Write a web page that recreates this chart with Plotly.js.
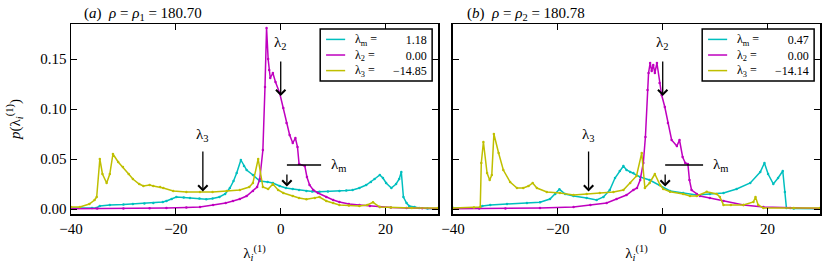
<!DOCTYPE html>
<html>
<head>
<meta charset="utf-8">
<script src="https://cdn.plot.ly/plotly-3.0.1.min.js"></script>
<style>html,body{margin:0;padding:0;background:#fff;}#chart{width:822px;height:264px;}</style>
</head>
<body>
<div id="chart"></div>
<script>
// ---------- Data ----------
// Panel (a): rho = rho1 = 180.70
const aLmX = [-40,-36,-35.2,-34.5,-32.6,-30,-28.2,-26,-24.3,-22.5,-21.8,-20.8,-19.9,-18.5,-17.3,-15.5,-14.2,-13,-11.7,-10.6,-9.7,-9,-8.4,-7.6,-7,-6.5,-5.3,-4,-2.5,-1.5,-0.2,1,2.3,3.5,4.9,6,7.4,9,11.2,12.5,13.7,15,16.3,17.2,17.9,18.9,19.5,20.1,21.1,22,22.6,23,23.4,24,24.5,25.5,26.4,28,30];
const aLmY = [0.001,0.001,0.001,0.003,0.004,0.0045,0.005,0.0055,0.006,0.007,0.008,0.010,0.012,0.0115,0.011,0.0105,0.0097,0.0105,0.012,0.015,0.021,0.028,0.036,0.049,0.043,0.039,0.034,0.028,0.027,0.026,0.023,0.021,0.020,0.019,0.018,0.0175,0.0173,0.0175,0.018,0.0185,0.019,0.021,0.024,0.027,0.030,0.034,0.031,0.026,0.021,0.025,0.030,0.037,0.012,0.006,0.003,0.002,0.001,0.0005,0.0003];

const aL2X = [-40,-35,-30,-25,-21.8,-18,-15.4,-12.9,-10.5,-9.1,-7.8,-6.5,-5.3,-4.5,-4.0,-3.4,-3.0,-2.7,-2.4,-2.2,-2.0,-1.5,-1.0,-0.2,0.5,1.1,1.7,2.3,2.8,3.2,3.5,4.6,5.0,5.5,6.2,7.1,8.7,10,11.2,13,15,17,18.9,21,24,27,30];
const aL2Y = [0.0003,0.0004,0.0006,0.0008,0.001,0.0015,0.002,0.004,0.006,0.008,0.010,0.013,0.018,0.022,0.030,0.059,0.122,0.181,0.150,0.139,0.131,0.136,0.127,0.116,0.101,0.086,0.074,0.066,0.071,0.062,0.045,0.043,0.032,0.024,0.019,0.016,0.012,0.009,0.007,0.005,0.004,0.003,0.002,0.0015,0.001,0.0007,0.0005];

const aL3X = [-40,-38.3,-36.5,-35.5,-35.1,-34.5,-34,-33.2,-32.6,-32,-31,-30.1,-29,-28.2,-27,-26.2,-25,-24.3,-23,-22.4,-20.5,-18,-15.4,-13,-10.3,-7.8,-6,-5.3,-4.3,-3.4,-2.4,-1.5,-0.5,0.5,2.3,3.5,4.9,6.5,7.4,8.7,10,11.2,13,15,16.5,17.6,18.9,21,25,30];
const aL3Y = [0.002,0.002,0.005,0.009,0.012,0.050,0.035,0.026,0.035,0.055,0.047,0.042,0.035,0.030,0.025,0.023,0.024,0.023,0.022,0.021,0.018,0.017,0.017,0.017,0.018,0.019,0.022,0.026,0.050,0.022,0.020,0.025,0.019,0.016,0.013,0.011,0.0097,0.011,0.012,0.008,0.006,0.004,0.0035,0.003,0.004,0.0067,0.002,0.0015,0.001,0.001];

// Panel (b): rho = rho2 = 180.78
const bLmX = [-40,-35,-34.4,-32.9,-29.7,-25.9,-23.4,-21.5,-20.5,-19.7,-18.6,-17,-14.5,-12.6,-11.3,-10.1,-9.1,-8.2,-7.5,-6.9,-6.2,-5.6,-4.3,-2.5,-0.6,1.4,3.9,6.5,9,11.6,14.1,16.7,18.6,19.4,20.1,21.1,22,22.9,23.3,23.6,25,30];
const bLmY = [0.001,0.001,0.003,0.004,0.005,0.006,0.0067,0.010,0.015,0.0197,0.015,0.013,0.011,0.009,0.012,0.019,0.031,0.038,0.043,0.039,0.037,0.036,0.032,0.029,0.024,0.018,0.016,0.014,0.015,0.016,0.020,0.026,0.037,0.046,0.035,0.025,0.031,0.038,0.017,0.001,0.0005,0.0003];

const bL2X = [-40,-35,-30,-23.4,-17,-13.8,-10.7,-8.8,-6.9,-5.6,-4.9,-4.3,-3.7,-3.3,-2.9,-2.7,-2.4,-2.1,-1.8,-1.5,-1.1,-0.6,-0.2,0.4,1.0,1.7,2.7,3.2,3.8,4.3,4.8,5.1,5.5,6.5,7.1,9,11.6,15.4,19.2,24.3,30];
const bL2Y = [0.0003,0.0004,0.0006,0.001,0.002,0.004,0.006,0.010,0.014,0.019,0.021,0.029,0.046,0.072,0.119,0.136,0.146,0.138,0.144,0.136,0.146,0.126,0.114,0.102,0.086,0.069,0.063,0.069,0.052,0.046,0.045,0.029,0.019,0.015,0.013,0.011,0.008,0.004,0.002,0.001,0.0005];

const bL3X = [-40,-36,-34.8,-34.6,-34.2,-33.5,-33,-32.6,-32.2,-31.3,-30.4,-29.1,-27.8,-26.6,-25.6,-24.8,-24,-22.1,-19.6,-17,-14.5,-12,-9.4,-7.5,-6.2,-5,-4.0,-3.4,-2.5,-1.5,-0.5,0.1,1.4,3.9,5.2,6.5,8.4,10.3,10.9,11.6,13,15.4,17.3,17.7,18.2,19.2,25,30];
const bL3Y = [0.001,0.0015,0.002,0.046,0.067,0.036,0.029,0.034,0.075,0.056,0.039,0.027,0.021,0.021,0.023,0.026,0.021,0.017,0.016,0.014,0.015,0.016,0.017,0.019,0.026,0.033,0.056,0.021,0.026,0.035,0.024,0.020,0.0173,0.015,0.013,0.013,0.0173,0.015,0.012,0.004,0.004,0.004,0.007,0.012,0.004,0.001,0.001,0.001];

// Legend labels and marked eigenvalues
const lambdaNames = ['λ<sub>m</sub> =', 'λ<sub>2</sub> =', 'λ<sub>3</sub> ='];
const aValues = ['1.18', '0.00', '\u221214.85'];
const bValues = ['0.47', '0.00', '\u221214.14'];
const aMarks = {lm: 1.18, l2: 0.00, l3: -14.85};
const bMarks = {lm: 0.47, l2: 0.00, l3: -14.14};
const panelTitles = ['(<i>a</i>)  <i>ρ</i> = <i>ρ</i><sub>1</sub> = 180.70', '(<i>b</i>)  <i>ρ</i> = <i>ρ</i><sub>2</sub> = 180.78'];

// ---------- Styles ----------
const colors = ['#00BFBF', '#BF00BF', '#BFBF00'];
const FONT = '"Liberation Serif", "Times New Roman", serif';
const font = (s) => ({family: FONT, size: s, color: '#000'});

function mk(x, y, i, xa, ya, vals) {
  return {
    x: x, y: y, type: 'scatter', mode: 'lines+markers',
    xaxis: xa, yaxis: ya, showlegend: false,
    name: lambdaNames[i] + ' ' + vals[i],
    line: {color: colors[i], width: 1.5},
    marker: {color: colors[i], size: 2.5}
  };
}

const data = [
  mk(aLmX, aLmY, 0, 'x', 'y', aValues),
  mk(aL2X, aL2Y, 1, 'x', 'y', aValues),
  mk(aL3X, aL3Y, 2, 'x', 'y', aValues),
  mk(bLmX, bLmY, 0, 'x2', 'y2', bValues),
  mk(bL2X, bL2Y, 1, 'x2', 'y2', bValues),
  mk(bL3X, bL3Y, 2, 'x2', 'y2', bValues)
];

const axBase = {
  showline: true, linecolor: '#000', linewidth: 1.5, mirror: 'allticks',
  ticks: 'inside', ticklen: 6, tickwidth: 1, tickcolor: '#000',
  showgrid: false, zeroline: false, tickfont: font(15)
};
const xTitle = {text: 'λ<sub><i>i</i></sub><sup>(1)</sup>', font: font(15), standoff: 12};

function arrowAnns(m, xr, yr) {
  const common = {xref: xr, yref: yr, axref: xr, ayref: yr, showarrow: true,
    arrowhead: 4, arrowsize: 1.4, arrowwidth: 1.3, arrowcolor: '#000', font: font(15)};
  return [
    Object.assign({}, common, {x: m.l2, y: 0.113, ax: m.l2, ay: 0.166, text: 'λ<sub>2</sub>', startstandoff: 8}),
    Object.assign({}, common, {x: m.l3, y: 0.0175, ax: m.l3, ay: 0.074, text: 'λ<sub>3</sub>', startstandoff: 6}),
    Object.assign({}, common, {x: m.lm, y: 0.0225, ax: m.lm, ay: 0.044, text: ' ', startstandoff: 0}),
    {xref: xr, yref: yr, x: 11, y: 0.044, text: 'λ<sub>m</sub>', showarrow: false, font: font(15)}
  ];
}

// Legend drawn inside each panel (axis-domain coordinates)
const LEG_FS = 12;
const legRowsY = [0.9189, 0.8368, 0.7547];
function legendParts(xr, yr, vals) {
  const xd = xr + ' domain', yd = yr + ' domain';
  const shapes = [{type: 'rect', xref: xd, yref: yd, x0: 0.679, x1: 0.984, y0: 0.70, y1: 0.9737,
    line: {color: '#000', width: 1.5}, fillcolor: '#fff', layer: 'above'}];
  for (let i = 0; i < 3; i++) {
    shapes.push({type: 'line', xref: xd, yref: yd, x0: 0.695, x1: 0.747, y0: legRowsY[i], y1: legRowsY[i],
      line: {color: colors[i], width: 1.5}, layer: 'above'});
  }
  const anns = [
    {xref: xd, yref: yd, x: 0.768, y: legRowsY[1], xanchor: 'left', yanchor: 'middle', align: 'left',
     showarrow: false, text: lambdaNames.join('<br>'), font: font(LEG_FS)},
    {xref: xd, yref: yd, x: 0.975, y: legRowsY[1], xanchor: 'right', yanchor: 'middle', align: 'right',
     showarrow: false, text: vals.join('<br>'), font: font(LEG_FS)}
  ];
  return {shapes, anns};
}
const legA = legendParts('x', 'y', aValues);
const legB = legendParts('x2', 'y2', bValues);

const layout = {
  width: 822, height: 264,
  margin: {l: 71, r: 2, t: 24, b: 50},
  paper_bgcolor: '#fff', plot_bgcolor: '#fff',
  showlegend: false,
  xaxis: Object.assign({}, axBase, {domain: [0, 0.49], range: [-40, 30], dtick: 20, tick0: -40, anchor: 'y', title: xTitle}),
  xaxis2: Object.assign({}, axBase, {domain: [0.51, 1], range: [-40, 30], dtick: 20, tick0: -40, anchor: 'y2', title: xTitle}),
  yaxis: Object.assign({}, axBase, {domain: [0, 1], range: [-0.005, 0.185], dtick: 0.05, tick0: 0, tickformat: '.2f', anchor: 'x',
    title: {text: '<i>p</i>(λ<sub><i>i</i></sub><sup>(1)</sup>)', font: font(15), standoff: 16}}),
  yaxis2: Object.assign({}, axBase, {domain: [0, 1], range: [-0.005, 0.185], dtick: 0.05, tick0: 0, anchor: 'x2', showticklabels: false}),
  shapes: [
    {type: 'line', xref: 'x', yref: 'y', x0: aMarks.lm, x1: 7.7, y0: 0.044, y1: 0.044, line: {color: '#000', width: 1.3}},
    {type: 'line', xref: 'x2', yref: 'y2', x0: bMarks.lm, x1: 7.7, y0: 0.044, y1: 0.044, line: {color: '#000', width: 1.3}}
  ].concat(legA.shapes, legB.shapes),
  annotations: [].concat(
    arrowAnns(aMarks, 'x', 'y'),
    arrowAnns(bMarks, 'x2', 'y2'),
    legA.anns, legB.anns,
    [
      {xref: 'paper', yref: 'paper', x: 0.0147, y: 1.053, xanchor: 'left', yanchor: 'middle', showarrow: false,
       text: panelTitles[0], font: font(15)},
      {xref: 'paper', yref: 'paper', x: 0.526, y: 1.053, xanchor: 'left', yanchor: 'middle', showarrow: false,
       text: panelTitles[1], font: font(15)}
    ]
  )
};

Plotly.newPlot('chart', data, layout, {displayModeBar: false, staticPlot: true});
</script>
</body>
</html>
